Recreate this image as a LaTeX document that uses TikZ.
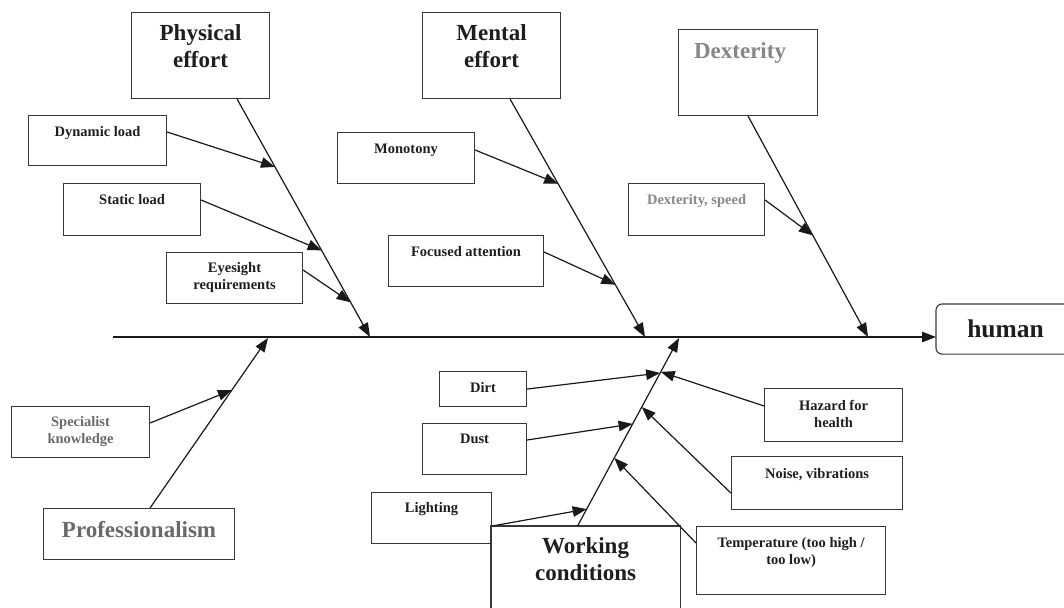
\documentclass[tikz,border=0pt]{standalone}
\usepackage{fontspec}
\setmainfont{Liberation Serif}
\usetikzlibrary{positioning,arrows.meta}

\definecolor{boxline}{RGB}{55,55,55}
\definecolor{darktext}{RGB}{30,30,30}
\definecolor{greytext}{RGB}{105,105,105}
\definecolor{lightgrey}{RGB}{135,135,135}

\tikzset{
  cbox/.style={draw=boxline, line width=1.1pt, anchor=north west, inner sep=0pt},
  small/.style={inner sep=0pt, align=center, text=darktext, font=\bfseries\fontsize{14.5}{17}\selectfont},
  big/.style={inner sep=0pt, align=center, text=darktext, font=\bfseries\fontsize{23}{27}\selectfont},
  arr/.style={draw=black!90, line width=1.2pt, -{Triangle[length=14pt,width=10.5pt]}},
}

\begin{document}
\begin{tikzpicture}[x=1pt,y=-1pt]
\useasboundingbox (0,0) rectangle (1064,607);

%Shape: Rectangle (heads)
\node[cbox, minimum width=138pt, minimum height=86pt] (phys) at (131,12) {};
\node[cbox, minimum width=138pt, minimum height=86pt] (mental) at (422,12) {};
\node[cbox, minimum width=139pt, minimum height=86pt] (dex) at (678,29) {};
\node[cbox, minimum width=191pt, minimum height=51pt] (prof) at (43,508) {};
\node[cbox, draw=none, minimum width=188pt, minimum height=81pt] (work) at (491,526) {};
\draw[boxline, line width=1.1pt] (work.south west) -- (work.north west) -- (work.north east) -- (work.south east);
\node[cbox, draw=none, minimum width=128pt, minimum height=49pt] (human) at (936,304) {};
\draw[boxline, line width=1.1pt, rounded corners=6pt] (human.north east) -- (human.north west) -- (human.south west) -- (human.south east);

%Shape: Rectangle (causes)
\node[cbox, minimum width=138pt, minimum height=50pt] (dyn) at (28,115) {};
\node[cbox, minimum width=137pt, minimum height=52pt] (stat) at (63,183) {};
\node[cbox, minimum width=136pt, minimum height=51pt] (eye) at (166,252) {};
\node[cbox, minimum width=137pt, minimum height=51pt] (mono) at (337,132) {};
\node[cbox, minimum width=155pt, minimum height=51pt] (focus) at (388,235) {};
\node[cbox, minimum width=136pt, minimum height=52pt] (speed) at (628,183) {};
\node[cbox, minimum width=138pt, minimum height=51pt] (spec) at (11,406) {};
\node[cbox, minimum width=87pt, minimum height=35pt] (dirt) at (439,371) {};
\node[cbox, minimum width=104pt, minimum height=51pt] (dust) at (422,423) {};
\node[cbox, minimum width=120pt, minimum height=51pt] (light) at (371,492) {};
\node[cbox, minimum width=138pt, minimum height=53pt] (hazard) at (764,388) {};
\node[cbox, minimum width=171pt, minimum height=53pt] (noise) at (731,456) {};
\node[cbox, minimum width=189pt, minimum height=68pt] (temp) at (696,526) {};

% Text Node
\node[big, below=12pt of phys.north] (phys-t) {Physical\\effort};
\node[big, below=12pt of mental.north] (mental-t) {Mental\\effort};
\node[big, text=lightgrey, below=13pt of dex.north, xshift=-8pt] (dex-t) {Dexterity};
\node[big, text=greytext, below=13pt of prof.north] (prof-t) {Professionalism};
\node[big, below=11pt of work.north] (work-t) {Working\\conditions};
\node[inner sep=0pt, text=darktext, font=\bfseries\fontsize{25.5}{30}\selectfont, xshift=5pt] (human-t) at (human) {human};

% Text Node
\node[small, below=11pt of dyn.north] (dyn-t) {Dynamic load};
\node[small, below=11pt of stat.north] (stat-t) {Static load};
\node[small, below=10pt of eye.north] (eye-t) {Eyesight\\requirements};
\node[small, below=12pt of mono.north] (mono-t) {Monotony};
\node[small, below=11pt of focus.north] (focus-t) {Focused attention};
\node[small, text=lightgrey, below=11pt of speed.north] (speed-t) {Dexterity, speed};
\node[small, text=greytext, below=10pt of spec.north] (spec-t) {Specialist\\knowledge};
\node[small, below=11pt of dirt.north] (dirt-t) {Dirt};
\node[small, below=11pt of dust.north] (dust-t) {Dust};
\node[small, below=10pt of light.north] (light-t) {Lighting};
\node[small, below=12pt of hazard.north] (hazard-t) {Hazard for\\health};
\node[small, below=12pt of noise.north] (noise-t) {Noise, vibrations};
\node[small, below=11pt of temp.north] (temp-t) {Temperature (too high /\\too low)};

%Straight Lines (spine)
\coordinate (spine) at (113,337);
\draw[arr] (spine) -- (spine -| human.west);

%Straight Lines (bones)
\coordinate (phys-end) at (370,337);
\coordinate (mental-end) at (645,337);
\coordinate (dex-end) at (868,337);
\coordinate (prof-end) at (268,338);
\coordinate (work-end) at (679,338);
\draw[arr] ([xshift=-33pt]phys.south east) -- (phys-end)
  coordinate[pos=.285] (dyn-in) coordinate[pos=.636] (stat-in) coordinate[pos=.854] (eye-in);
\draw[arr] ([xshift=-51pt]mental.south east) -- (mental-end)
  coordinate[pos=.356] (mono-in) coordinate[pos=.78] (focus-in);
\draw[arr] (dex.south) -- (dex-end)
  coordinate[pos=.54] (speed-in);
\draw[arr] ([xshift=11pt]prof.north) -- (prof-end)
  coordinate[pos=.694] (spec-in);
\draw[arr] ([xshift=-8pt]work.north) -- (work-end)
  coordinate[pos=.814] (dirt-in) coordinate[pos=.82] (hazard-in) coordinate[pos=.543] (dust-in)
  coordinate[pos=.633] (noise-in) coordinate[pos=.09] (light-in) coordinate[pos=.362] (temp-in);

%Straight Lines (causes)
\draw[arr] ([yshift=-17pt]dyn.north east) -- (dyn-in);
\draw[arr] ([yshift=-17pt]stat.north east) -- (stat-in);
\draw[arr] ([yshift=-18pt]eye.north east) -- (eye-in);
\draw[arr] ([yshift=-18pt]mono.north east) -- (mono-in);
\draw[arr] ([yshift=-17pt]focus.north east) -- (focus-in);
\draw[arr] ([yshift=-17pt]speed.north east) -- (speed-in);
\draw[arr] ([yshift=-17pt]spec.north east) -- (spec-in);
\draw[arr] (dirt.east) -- (dirt-in);
\draw[arr] ([yshift=-17pt]dust.north east) -- (dust-in);
\draw[arr] (light.east |- work.north) -- (light-in);
\draw[arr] ([yshift=-18pt]hazard.north west) -- (hazard-in);
\draw[arr] ([yshift=17pt]noise.south west) -- (noise-in);
\draw[arr] ([yshift=-17pt]temp.north west) -- (temp-in);

\end{tikzpicture}
\end{document}
